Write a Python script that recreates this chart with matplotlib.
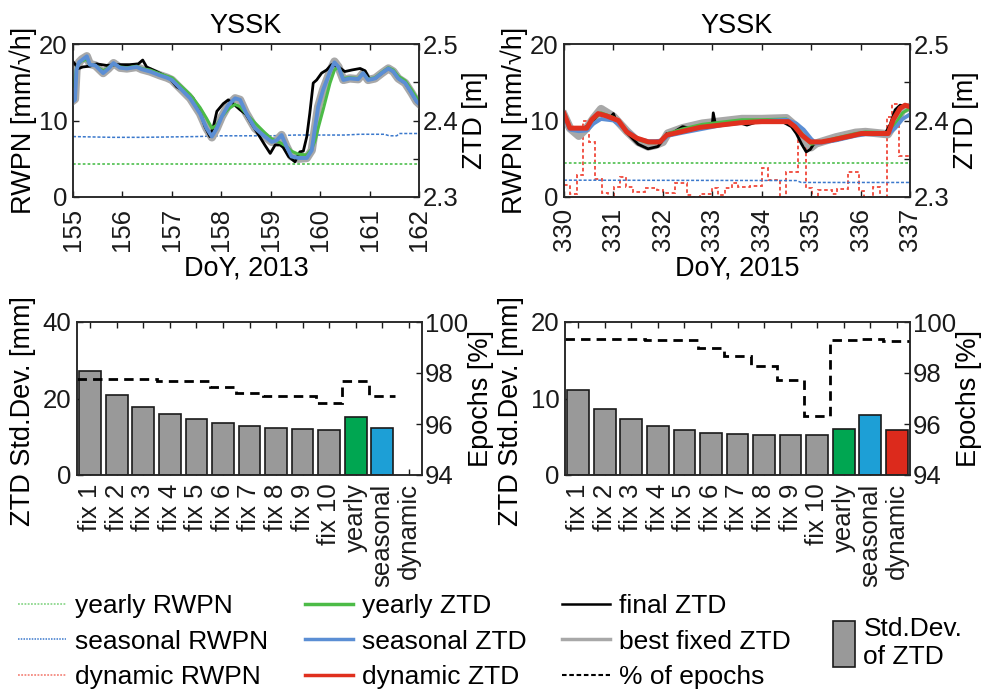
import matplotlib
matplotlib.use('Agg')
import matplotlib.pyplot as plt
import numpy as np
from matplotlib.lines import Line2D
from matplotlib.patches import Patch

plt.rcParams['font.family'] = ['Liberation Sans', 'DejaVu Sans']

# ---------------- data: 2013 (DoY 155-162) ----------------
doy_2013 = [155.00, 155.04, 155.07, 155.12, 155.18, 155.28, 155.34, 155.45, 155.61, 155.72,
            155.82, 155.95, 156.09, 156.29, 156.39, 156.56, 156.76, 156.90, 157.00, 157.17,
            157.37, 157.57, 157.70, 157.81, 157.91, 158.01, 158.14, 158.28, 158.38, 158.50,
            158.68, 158.88, 159.02, 159.12, 159.22, 159.32, 159.42, 159.56, 159.73, 159.83,
            159.90, 159.96, 160.06, 160.20, 160.29, 160.37, 160.47, 160.60, 160.77, 160.87,
            160.97, 161.11, 161.25, 161.38, 161.48, 161.58, 161.72, 161.85, 161.95, 162.00]
seasonal_ztd_2013 = [2.425, 2.427, 2.466, 2.476, 2.479, 2.484, 2.473, 2.472, 2.462, 2.468,
                     2.475, 2.469, 2.468, 2.470, 2.467, 2.464, 2.459, 2.456, 2.453, 2.442,
                     2.429, 2.409, 2.390, 2.379, 2.390, 2.405, 2.420, 2.429, 2.427, 2.410,
                     2.390, 2.379, 2.372, 2.374, 2.381, 2.366, 2.353, 2.351, 2.351, 2.361,
                     2.392, 2.418, 2.440, 2.464, 2.476, 2.470, 2.453, 2.455, 2.454, 2.462,
                     2.453, 2.455, 2.462, 2.468, 2.464, 2.455, 2.449, 2.436, 2.425, 2.422]
yearly_ztd_2013 = [2.445, 2.455, 2.468, 2.475, 2.478, 2.480, 2.473, 2.472, 2.465, 2.469,
                   2.474, 2.470, 2.469, 2.471, 2.468, 2.466, 2.461, 2.458, 2.456, 2.446,
                   2.434, 2.417, 2.403, 2.390, 2.394, 2.405, 2.415, 2.421, 2.418, 2.409,
                   2.397, 2.384, 2.376, 2.373, 2.370, 2.366, 2.360, 2.356, 2.355, 2.363,
                   2.374, 2.390, 2.414, 2.449, 2.466, 2.470, 2.455, 2.456, 2.455, 2.462,
                   2.454, 2.456, 2.463, 2.469, 2.466, 2.458, 2.452, 2.440, 2.430, 2.426]
bestfix_ztd_2013 = [2.426, 2.428, 2.466, 2.476, 2.480, 2.484, 2.474, 2.472, 2.462, 2.468,
                    2.475, 2.469, 2.468, 2.470, 2.467, 2.464, 2.459, 2.456, 2.453, 2.442,
                    2.429, 2.409, 2.390, 2.378, 2.390, 2.405, 2.420, 2.429, 2.427, 2.410,
                    2.390, 2.379, 2.372, 2.374, 2.381, 2.366, 2.353, 2.350, 2.351, 2.361,
                    2.392, 2.418, 2.440, 2.464, 2.477, 2.470, 2.453, 2.455, 2.454, 2.462,
                    2.453, 2.455, 2.462, 2.468, 2.464, 2.455, 2.449, 2.436, 2.425, 2.422]
doy_final_2013 = [155.00, 155.11, 155.20, 155.34, 155.48, 155.68, 155.88, 156.15, 156.32, 156.41,
                  156.49, 156.69, 156.96, 157.10, 157.27, 157.43, 157.57, 157.67, 157.77, 157.84,
                  157.91, 158.04, 158.14, 158.24, 158.38, 158.50, 158.68, 158.88, 158.99, 159.09,
                  159.19, 159.25, 159.36, 159.49, 159.59, 159.66, 159.73, 159.79, 159.86, 159.93,
                  160.03, 160.13, 160.23, 160.37, 160.50, 160.64, 160.81, 160.91, 161.00, 161.11,
                  161.25, 161.38, 161.48, 161.58, 161.72, 161.85, 161.95, 162.00]
final_ztd_2013 = [2.477, 2.468, 2.470, 2.471, 2.474, 2.472, 2.473, 2.473, 2.474, 2.479,
                  2.470, 2.464, 2.455, 2.444, 2.438, 2.429, 2.412, 2.392, 2.379, 2.392,
                  2.412, 2.422, 2.427, 2.422, 2.414, 2.408, 2.389, 2.368, 2.357, 2.368,
                  2.368, 2.365, 2.353, 2.346, 2.359, 2.360, 2.379, 2.409, 2.449, 2.453,
                  2.462, 2.466, 2.473, 2.470, 2.464, 2.466, 2.468, 2.465, 2.454, 2.455,
                  2.462, 2.468, 2.464, 2.455, 2.449, 2.436, 2.425, 2.422]
doy_rwpn_2013 = [155.0, 155.8, 156.4, 157.5, 158.0, 159.0, 159.5, 160.5, 160.8, 161.3, 161.4, 161.55, 161.6, 162.0]
seasonal_rwpn_2013 = [7.9, 7.8, 7.8, 7.9, 8.0, 8.0, 8.1, 8.1, 8.2, 8.2, 8.0, 8.0, 8.3, 8.3]
doy_yearly_rwpn_2013 = [155.0, 162.0]
yearly_rwpn_2013 = [4.3, 4.3]

# ---------------- data: 2015 (DoY 330-337) ----------------
doy_2015 = [330.00, 330.12, 330.30, 330.46, 330.60, 330.75, 331.00, 331.27, 331.50, 331.70,
            331.85, 332.00, 332.10, 332.40, 332.80, 333.20, 333.60, 334.00, 334.50, 334.70,
            334.85, 335.00, 335.10, 335.50, 335.90, 336.10, 336.55, 336.70, 336.85, 337.00]
seasonal_ztd_2015 = [2.405, 2.388, 2.386, 2.387, 2.396, 2.402, 2.400, 2.387, 2.376, 2.373,
                     2.373, 2.374, 2.380, 2.384, 2.389, 2.394, 2.397, 2.399, 2.401, 2.396,
                     2.388, 2.376, 2.370, 2.374, 2.380, 2.382, 2.382, 2.390, 2.402, 2.408]
yearly_ztd_2015 = [2.406, 2.391, 2.389, 2.391, 2.402, 2.410, 2.404, 2.386, 2.375, 2.371,
                   2.371, 2.374, 2.383, 2.389, 2.395, 2.398, 2.401, 2.401, 2.402, 2.393,
                   2.380, 2.369, 2.370, 2.377, 2.383, 2.385, 2.384, 2.395, 2.410, 2.416]
bestfix_ztd_2015 = [2.407, 2.390, 2.380, 2.390, 2.403, 2.415, 2.405, 2.386, 2.372, 2.366,
                    2.368, 2.372, 2.383, 2.390, 2.396, 2.399, 2.402, 2.402, 2.403, 2.392,
                    2.376, 2.365, 2.370, 2.378, 2.384, 2.385, 2.382, 2.397, 2.414, 2.418]
doy_dyn_2015 = [330.00, 330.12, 330.46, 330.56, 330.69, 330.86, 331.10, 331.27, 331.47, 331.71,
                331.94, 332.08, 332.35, 332.75, 333.16, 333.56, 334.00, 334.54, 334.67, 334.81,
                334.98, 335.21, 335.42, 335.82, 336.02, 336.56, 336.66, 336.80, 336.90, 337.00]
dynamic_ztd_2015 = [2.409, 2.390, 2.390, 2.401, 2.409, 2.406, 2.400, 2.385, 2.377, 2.372,
                    2.372, 2.381, 2.385, 2.391, 2.394, 2.397, 2.3985, 2.3985, 2.392, 2.381,
                    2.372, 2.372, 2.3745, 2.380, 2.383, 2.383, 2.401, 2.416, 2.420, 2.418]
doy_final_2015 = [330.0, 330.1, 330.3, 330.5, 330.7, 330.95, 331.0, 331.05, 331.1, 331.3,
                  331.5, 331.7, 331.9, 332.0, 332.08, 332.2, 332.4, 332.6, 333.0, 333.02,
                  333.06, 333.5, 333.7, 333.9, 334.4, 334.6, 334.7, 334.8, 334.9, 334.98,
                  335.05, 335.2, 335.5, 335.8, 336.1, 336.5, 336.6, 336.7, 336.8, 336.9]
final_ztd_2015 = [2.409, 2.390, 2.388, 2.393, 2.408, 2.405, 2.409, 2.400, 2.397, 2.382,
                  2.369, 2.363, 2.366, 2.374, 2.383, 2.384, 2.392, 2.389, 2.394, 2.410,
                  2.396, 2.398, 2.394, 2.398, 2.399, 2.392, 2.383, 2.370, 2.359, 2.362,
                  2.369, 2.372, 2.374, 2.379, 2.383, 2.383, 2.395, 2.414, 2.420, 2.419]
dyn_rwpn_edges_2015 = [330.00, 330.12, 330.26, 330.38, 330.51, 330.63, 330.76, 330.90, 331.01, 331.13,
                       331.25, 331.40, 331.64, 331.88, 332.01, 332.25, 332.48, 332.58, 332.75, 332.99,
                       333.12, 333.26, 333.39, 333.53, 333.76, 334.00, 334.13, 334.37, 334.50, 334.74,
                       334.90, 335.02, 335.14, 335.42, 335.52, 335.75, 335.97, 336.06, 336.26, 336.39,
                       336.53, 336.63, 336.77, 337.00]
dynamic_rwpn_2015 = [1.57, 0.39, 2.9, 10.0, 7.2, 2.4, 0.57, 0.0, 1.27, 2.57,
                     1.27, 0.7, 1.13, 0.9, 0.48, 1.8, 0.3, 0.0, 0.4, 1.13,
                     0.3, 1.13, 1.87, 1.27, 1.44, 3.75, 2.2, 0.0, 3.3, 8.0,
                     1.13, 0.0, 0.9, 0.4, 1.0, 3.3, 0.8, 0.0, 1.27, 0.0,
                     10.5, 12.2, 5.3]
doy_rwpn_2015 = [330.0, 334.7, 334.8, 337.0]
seasonal_rwpn_2015 = [2.2, 2.15, 1.9, 1.9]
doy_yearly_rwpn_2015 = [330.0, 337.0]
yearly_rwpn_2015 = [4.5, 4.5]

# ---------------- bar data ----------------
categories = ['fix 1', 'fix 2', 'fix 3', 'fix 4', 'fix 5', 'fix 6', 'fix 7', 'fix 8', 'fix 9',
              'fix 10', 'yearly', 'seasonal', 'dynamic']
std_2013 = [27.1, 21.0, 17.9, 15.9, 14.6, 13.7, 12.9, 12.4, 12.1, 11.7, 15.1, 12.3, np.nan]
epochs_2013 = [97.75, 97.75, 97.75, 97.69, 97.69, 97.46, 97.23, 97.10, 97.10, 96.81, 97.70, 97.10, np.nan]
std_2015 = [11.1, 8.67, 7.28, 6.36, 5.88, 5.53, 5.36, 5.27, 5.23, 5.23, 6.01, 7.8, 5.88]
epochs_2015 = [99.35, 99.35, 99.35, 99.31, 99.31, 99.0, 98.67, 98.27, 97.73, 96.31, 99.29, 99.35, 99.27]

# ---------------- style ----------------
C_YEAR = '#4cbb47'
C_SEAS = '#5b8ed4'
C_DYN = '#e0301e'
C_GRAY = '#a8a8a8'
C_YEAR_DOT = '#5cc45c'
C_SEAS_DOT = '#3a78cc'
C_DYN_DOT = '#f0483a'
BAR_COLORS = ['#999999'] * 10 + ['#00a651', '#1d9fd6', '#dc2a1c']
SPINE = '#262626'
FS = 19.5
TFS = 18.5
BFS = 18.5

fig = plt.figure(figsize=(9.82, 6.90), dpi=100)


def style_axes(ax, ax2):
    for a in (ax, ax2):
        for s in a.spines.values():
            s.set_linewidth(1.1)
            s.set_color(SPINE)
    ax.tick_params(direction='in', length=4, width=1, top=True, right=False,
                   labelsize=TFS, colors='#1a1a1a')
    ax2.tick_params(direction='in', length=4, width=1, labelsize=TFS, colors='#1a1a1a')


def top_panel(rect, year, doy, ys, yy, yb, doyf, yf, doyr, rs, doyyr, ry, extra=None):
    ax = fig.add_axes(rect)
    ax2 = ax.twinx()
    ax.plot(doyyr, ry, color=C_YEAR_DOT, lw=1.3, ls=(0, (1.5, 1.2)))
    ax.plot(doyr, rs, color=C_SEAS_DOT, lw=1.1, ls=(0, (2, 1.2)))
    if extra is not None:
        ax.stairs(extra[1], extra[0], color=C_DYN_DOT, lw=1.3, ls=(0, (2, 1.5)), baseline=None)
    ax2.plot(doy, yb, color=C_GRAY, lw=6.0)
    ax2.plot(doyf, yf, color='black', lw=2.0)
    ax2.plot(doy, yy, color=C_YEAR, lw=2.2)
    ax2.plot(doy, ys, color=C_SEAS, lw=2.8)
    if extra is not None:
        ax2.plot(extra[2], extra[3], color=C_DYN, lw=3.6)
    ax.set_xlim(year[0], year[1])
    ax.set_ylim(0, 20)
    ax.set_yticks([0, 10, 20])
    ax.set_xticks(np.arange(year[0], year[1] + 1))
    ax.tick_params(axis='x', labelrotation=90, pad=8)
    ax.tick_params(axis='y', pad=4)
    ax2.set_ylim(2.3, 2.5)
    ax2.set_yticks([2.3, 2.35, 2.4, 2.45, 2.5])
    ax2.set_yticklabels(['2.3', '', '2.4', '', '2.5'])
    style_axes(ax, ax2)
    ax2.tick_params(axis='y', pad=3)
    ax.set_ylabel('RWPN [mm/\u221ah]', fontsize=FS, labelpad=1)
    ax2.set_ylabel('ZTD [m]', fontsize=FS, labelpad=2)
    ax.set_xlabel('DoY, %d' % year[2], fontsize=FS, labelpad=3)
    ax.set_title('YSSK', fontsize=FS, pad=8)
    return ax, ax2


top_panel([73 / 982, 1 - 197 / 690, 346 / 982, 153 / 690], (155, 162, 2013),
          doy_2013, seasonal_ztd_2013, yearly_ztd_2013, bestfix_ztd_2013,
          doy_final_2013, final_ztd_2013, doy_rwpn_2013, seasonal_rwpn_2013,
          doy_yearly_rwpn_2013, yearly_rwpn_2013)
top_panel([564 / 982, 1 - 197 / 690, 346 / 982, 153 / 690], (330, 337, 2015),
          doy_2015, seasonal_ztd_2015, yearly_ztd_2015, bestfix_ztd_2015,
          doy_final_2015, final_ztd_2015, doy_rwpn_2015, seasonal_rwpn_2015,
          doy_yearly_rwpn_2015, yearly_rwpn_2015,
          extra=(dyn_rwpn_edges_2015, dynamic_rwpn_2015, doy_dyn_2015, dynamic_ztd_2015))


def bottom_panel(rect, std, epochs, ymax, yticks):
    ax = fig.add_axes(rect)
    ax2 = ax.twinx()
    x = np.arange(1, len(categories) + 1)
    ax.bar(x, std, width=0.82, color=BAR_COLORS, edgecolor='#1a1a1a', linewidth=1.2, zorder=2)
    ep = np.array(epochs, dtype=float)
    valid = ~np.isnan(ep)
    n = int(valid.sum())
    ax2.stairs(ep[valid], np.arange(0.5, n + 1), color='black', lw=2.0,
               ls=(0, (3.4, 2.2)), baseline=None)
    ax.set_xlim(0.5, len(categories) + 0.5)
    ax.set_ylim(0, ymax)
    ax.set_yticks(yticks)
    ax.set_xticks(x)
    ax.set_xticklabels(categories)
    ax.tick_params(axis='x', labelrotation=90, pad=6)
    ax.tick_params(axis='y', pad=4)
    ax2.set_ylim(94, 100)
    ax2.set_yticks([94, 96, 98, 100])
    style_axes(ax, ax2)
    ax2.tick_params(axis='y', pad=2)
    ax.set_ylabel('ZTD Std.Dev. [mm]', fontsize=FS)
    ax.yaxis.set_label_coords(-0.12, 0.42)
    ax2.set_ylabel('Epochs [%]', fontsize=FS, labelpad=0)
    for lab in ax.get_xticklabels():
        lab.set_fontsize(BFS)
    return ax, ax2


bottom_panel([77 / 982, 1 - 475 / 690, 345 / 982, 153 / 690], std_2013, epochs_2013, 40, [0, 20, 40])
bottom_panel([565 / 982, 1 - 475 / 690, 345 / 982, 153 / 690], std_2015, epochs_2015, 20, [0, 10, 20])

# ---------------- legend ----------------
LFS = 19
leg_kw = dict(loc='upper left', frameon=False, borderpad=0, borderaxespad=0,
              handlelength=1.8, handletextpad=0.35, labelspacing=0.44, fontsize=LFS)
h1 = [Line2D([], [], color='#8fd88f', lw=1.3, ls=(0, (1, 0.8))),
      Line2D([], [], color=C_SEAS_DOT, lw=1.1, ls=(0, (1, 0.8))),
      Line2D([], [], color='#f48a80', lw=1.3, ls=(0, (1, 0.8)))]
fig.legend(h1, ['yearly RWPN', 'seasonal RWPN', 'dynamic RWPN'],
           bbox_to_anchor=(18 / 982, 1 - 594 / 690), **leg_kw)
h2 = [Line2D([], [], color=C_YEAR, lw=2.5),
      Line2D([], [], color=C_SEAS, lw=2.5),
      Line2D([], [], color=C_DYN, lw=2.5)]
fig.legend(h2, ['yearly ZTD', 'seasonal ZTD', 'dynamic ZTD'],
           bbox_to_anchor=(305 / 982, 1 - 594 / 690), **leg_kw)
h3 = [Line2D([], [], color='black', lw=1.8),
      Line2D([], [], color=C_GRAY, lw=2.5),
      Line2D([], [], color='black', lw=1.5, ls=(0, (2.2, 1.3)))]
fig.legend(h3, ['final ZTD', 'best fixed ZTD', '% of epochs'],
           bbox_to_anchor=(562 / 982, 1 - 594 / 690), **leg_kw)
h4 = [Patch(facecolor='#999999', edgecolor='#1a1a1a', linewidth=1.2)]
fig.legend(h4, ['Std.Dev.\nof ZTD'], loc='upper left', frameon=False, borderpad=0,
           borderaxespad=0, handlelength=0.85, handleheight=2.3, handletextpad=0.3,
           labelspacing=0.1, fontsize=LFS, bbox_to_anchor=(833 / 982, 1 - 617 / 690))

fig.savefig('out.png', dpi=100)
